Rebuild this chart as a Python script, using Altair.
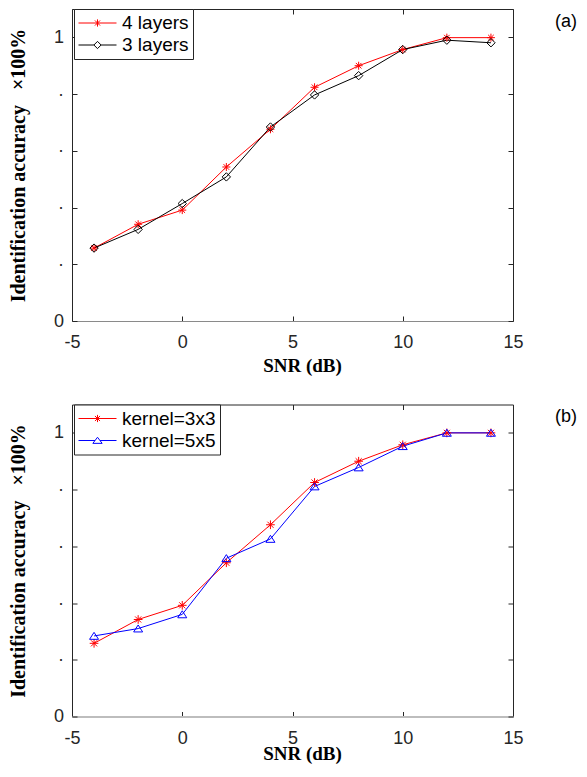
import altair as alt
import pandas as pd

# ---------------- data ----------------
snr = [-4, -2, 0, 2, 4, 6, 8, 10, 12, 14]

names_a = ["4 layers", "3 layers"]
acc_4_layers = [0.257, 0.341, 0.391, 0.543, 0.676, 0.824, 0.900, 0.957, 0.999, 0.999]
acc_3_layers = [0.257, 0.323, 0.414, 0.508, 0.684, 0.797, 0.865, 0.957, 0.990, 0.981]

names_b = ["kernel=3x3", "kernel=5x5"]
acc_kernel_3 = [0.258, 0.342, 0.392, 0.542, 0.676, 0.825, 0.900, 0.958, 1.000, 1.000]
acc_kernel_5 = [0.284, 0.310, 0.360, 0.558, 0.626, 0.811, 0.878, 0.953, 1.000, 1.000]

x_ticks = [-5, 0, 5, 10, 15]
y_ticks = [0, 0.2, 0.4, 0.6, 0.8, 1.0]

# ---------------- styles ----------------
STAR = "M-1,0H1M0,-1V1M-0.7,-0.7L0.7,0.7M-0.7,0.7L0.7,-0.7"
DIAMOND = "M0,-1L1,0L0,1L-1,0Z"
TRIANGLE = "M0,-0.8L1,0.75L-1,0.75Z"
LEG_STAR = "M-1,0H1M0,-0.19V0.19M-0.134,-0.134L0.134,0.134M-0.134,0.134L0.134,-0.134"
LEG_DIAMOND = "M-1,0H-0.19M0.19,0H1M0,-0.19L0.19,0L0,0.19L-0.19,0Z"
LEG_TRIANGLE = "M-1,0H-0.13M0.13,0H1M0,-0.17L0.245,0.15L-0.245,0.15Z"

W, H = 441, 312
AX = "#262626"
SANS = "Liberation Sans"
SERIF = "Liberation Serif"
NB = "\u00a0"


def panel(names, s1, s2, colors, shapes, sizes, leg_shapes, tag,
          bottom_color, bottom_width, x_title_y):
    df = pd.DataFrame({
        "snr": snr + snr,
        "acc": s1 + s2,
        "series": [names[0]] * len(snr) + [names[1]] * len(snr),
    })
    base = alt.Chart(df)
    xs = alt.Scale(domain=[-5, 15], nice=False)
    ys = alt.Scale(domain=[0, 1.1], nice=False)
    cscale = alt.Scale(domain=names, range=colors)

    lines = base.mark_line(strokeWidth=1).encode(
        x=alt.X("snr:Q", scale=xs, axis=alt.Axis(
            orient="bottom", values=x_ticks, offset=-5, tickSize=5, tickColor=AX,
            domain=False, grid=False, labelPadding=12.5, labelFont=SANS,
            labelFontSize=18, labelColor=AX, labelExpr="'' + datum.value",
            labelFlush=False, labelOverlap=False,
            title="SNR (dB)", titleFont=SERIF, titleFontWeight="bold",
            titleFontSize=19, titleColor="black", titleX=230, titleY=x_title_y,
            titleBaseline="alphabetic")),
        y=alt.Y("acc:Q", scale=ys, axis=alt.Axis(
            orient="left", values=y_ticks, offset=-5, tickSize=5, tickColor=AX,
            domain=False, grid=False, labelPadding=8.5, labelFont=SANS,
            labelFontSize=18, labelColor=AX,
            labelExpr=f"datum.value == 0 ? '0' : datum.value == 1 ? '1' : '\u00b7{NB}{NB}'",
            title=f"Identification accuracy{NB}{NB}{NB}\u00d7100%", titleFont=SERIF,
            titleFontWeight="bold", titleFontSize=20, titleColor="black",
            titleX=-52.5, titleY=H / 2, titleBaseline="alphabetic")),
        color=alt.Color("series:N", scale=cscale, legend=None),
        detail="series:N",
    )

    # inward ticks on the top edge (a bottom axis lifted to the top) and right edge
    pts = base.mark_point(filled=False, strokeWidth=1, opacity=1).encode(
        x=alt.X("snr:Q", scale=xs, axis=alt.Axis(
            orient="bottom", values=x_ticks, offset=-H, tickSize=5, tickColor=AX,
            domain=False, grid=False, labels=False, title=None)),
        y=alt.Y("acc:Q", scale=ys, axis=alt.Axis(
            orient="left", values=y_ticks, offset=-W, tickSize=5, tickColor=AX,
            domain=False, grid=False, labels=False, title=None)),
        color=alt.Color("series:N", scale=cscale, legend=None),
        shape=alt.Shape("series:N", scale=alt.Scale(domain=names, range=shapes), legend=None),
        size=alt.Size("series:O", scale=alt.Scale(domain=names, range=sizes), legend=None),
    )

    leg_props = dict(
        title=None, orient="none", legendX=2, legendY=0, padding=4,
        strokeColor=AX, fillColor="white", labelFont=SANS, labelFontSize=19,
        labelColor="black", symbolSize=1444, symbolStrokeWidth=1,
        clipHeight=20, rowPadding=2, labelOffset=5,
    )
    leg = base.transform_filter("datum.snr > 1000").mark_point(
        filled=False, strokeWidth=1, opacity=1).encode(
        x=alt.X("snr:Q", scale=xs, axis=alt.Axis(
            orient="bottom", domain=True, domainColor=bottom_color,
            domainWidth=bottom_width, ticks=False, labels=False, grid=False,
            title=None)),
        y=alt.Y("acc:Q", scale=ys, axis=None),
        color=alt.Color("series:N", scale=cscale, legend=alt.Legend(**leg_props)),
        shape=alt.Shape("series:N", scale=alt.Scale(domain=names, range=leg_shapes),
                        legend=alt.Legend(**leg_props)),
    )

    return alt.layer(lines, pts, leg).resolve_scale(
        color="independent", shape="independent"
    ).resolve_axis(
        x="independent", y="independent"
    ).properties(
        width=W, height=H,
        title=alt.TitleParams(tag, orient="top", anchor="end", align="right",
                              baseline="top", offset=-22, dx=54,
                              font=SANS, fontSize=18, fontWeight="normal",
                              color="black"),
    )


top = panel(names_a, acc_4_layers, acc_3_layers, ["#ff0000", "#000000"],
            [STAR, DIAMOND], [64, 81], [LEG_STAR, LEG_DIAMOND], "(a)",
            "#8a8a8a", 1, 55)
bottom = panel(names_b, acc_kernel_3, acc_kernel_5, ["#ff0000", "#0000ff"],
               [STAR, TRIANGLE], [64, 81], [LEG_STAR, LEG_TRIANGLE], "(b)",
               "#bdbdbd", 2, 48)

chart = alt.vconcat(top, bottom, spacing=27.5).properties(padding=0).configure_view(
    stroke=AX, strokeWidth=1
)

chart.save("out.html", embed_options={"renderer": "svg", "actions": False})
